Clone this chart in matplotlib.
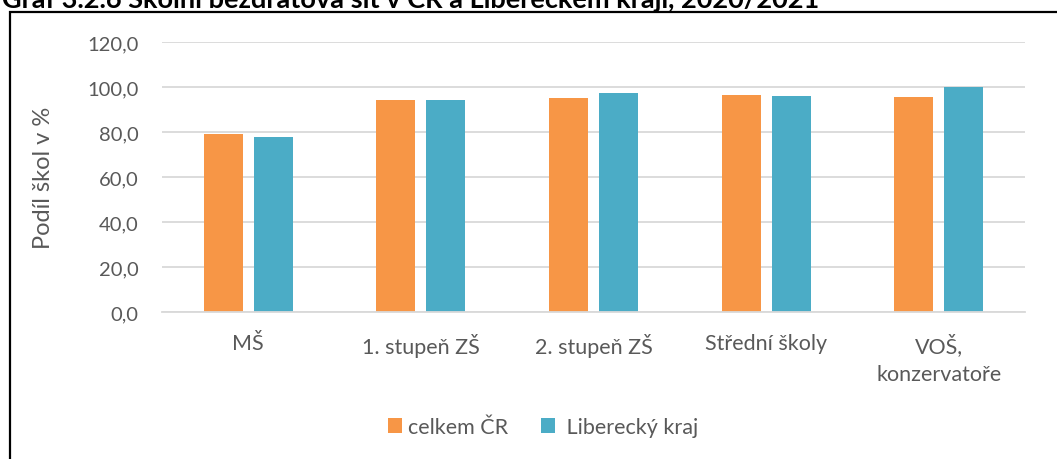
import matplotlib.pyplot as plt
from matplotlib.patches import Rectangle
from matplotlib.ticker import FuncFormatter
import numpy as np

# data
categories = ["MŠ", "1. stupeň ZŠ", "2. stupeň ZŠ", "Střední školy", "VOŠ,\nkonzervatoře"]
celkem_cr = [79.1, 94.2, 95.1, 96.3, 95.6]
liberecky = [77.9, 94.1, 97.2, 96.0, 100.0]
series_names = ["celkem ČR", "Liberecký kraj"]

plt.rcParams["font.family"] = ["Lato", "DejaVu Sans"]
text_color = "#595959"

fig = plt.figure(figsize=(10.57, 4.6), dpi=100)
ax = fig.add_axes([162 / 1057, 1 - 313 / 460, (1025 - 162) / 1057, (313 - 43) / 460])

x = np.arange(len(categories))
w = 0.226
off = 0.145
ax.bar(x - off, celkem_cr, w, color="#f79646", label=series_names[0], zorder=2)
ax.bar(x + off, liberecky, w, color="#4bacc6", label=" " + series_names[1], zorder=2)

ax.set_xlim(-0.5, len(categories) - 0.5)
ax.set_ylim(0, 120)
ax.set_yticks(range(0, 121, 20))
ax.yaxis.set_major_formatter(FuncFormatter(lambda v, p: f"{v:.1f}".replace(".", ",")))
ax.set_xticks(x)
ax.set_xticklabels(categories, linespacing=1.5)

ax.grid(axis="y", color="#d9d9d9", lw=1.3, zorder=0)
ax.set_axisbelow(True)
for s in ["top", "right", "left"]:
    ax.spines[s].set_visible(False)
ax.spines["bottom"].set_color("#d9d9d9")
ax.spines["bottom"].set_linewidth(1.3)
ax.tick_params(axis="both", length=0, colors=text_color)
ax.tick_params(axis="y", labelsize=14.5, pad=17)
ax.tick_params(axis="x", labelsize=15.5, pad=15)

ax.set_ylabel("Podíl škol v %", fontsize=17, color=text_color, labelpad=24)

fig.legend(loc="center", bbox_to_anchor=(543 / 1057, 1 - 428 / 460), ncol=2,
           frameon=False, fontsize=15.5, labelcolor=text_color,
           handlelength=0.65, handleheight=0.65, handletextpad=0.3, columnspacing=1.5)

# outer frame, cut off at bottom and right like the original screenshot
fig.patches.append(Rectangle((10 / 1057, -0.1), 1.2, 1 - 13 / 460 + 0.1,
                             transform=fig.transFigure, fill=False,
                             edgecolor="black", lw=1.6))

fig.text(2 / 1057, 1 - 8 / 460, "Graf 3.2.6 Školní bezdrátová síť v ČR a Libereckém kraji, 2020/2021",
         fontsize=19.5, fontweight="bold", va="baseline", ha="left")

fig.savefig("out.png", dpi=100)
